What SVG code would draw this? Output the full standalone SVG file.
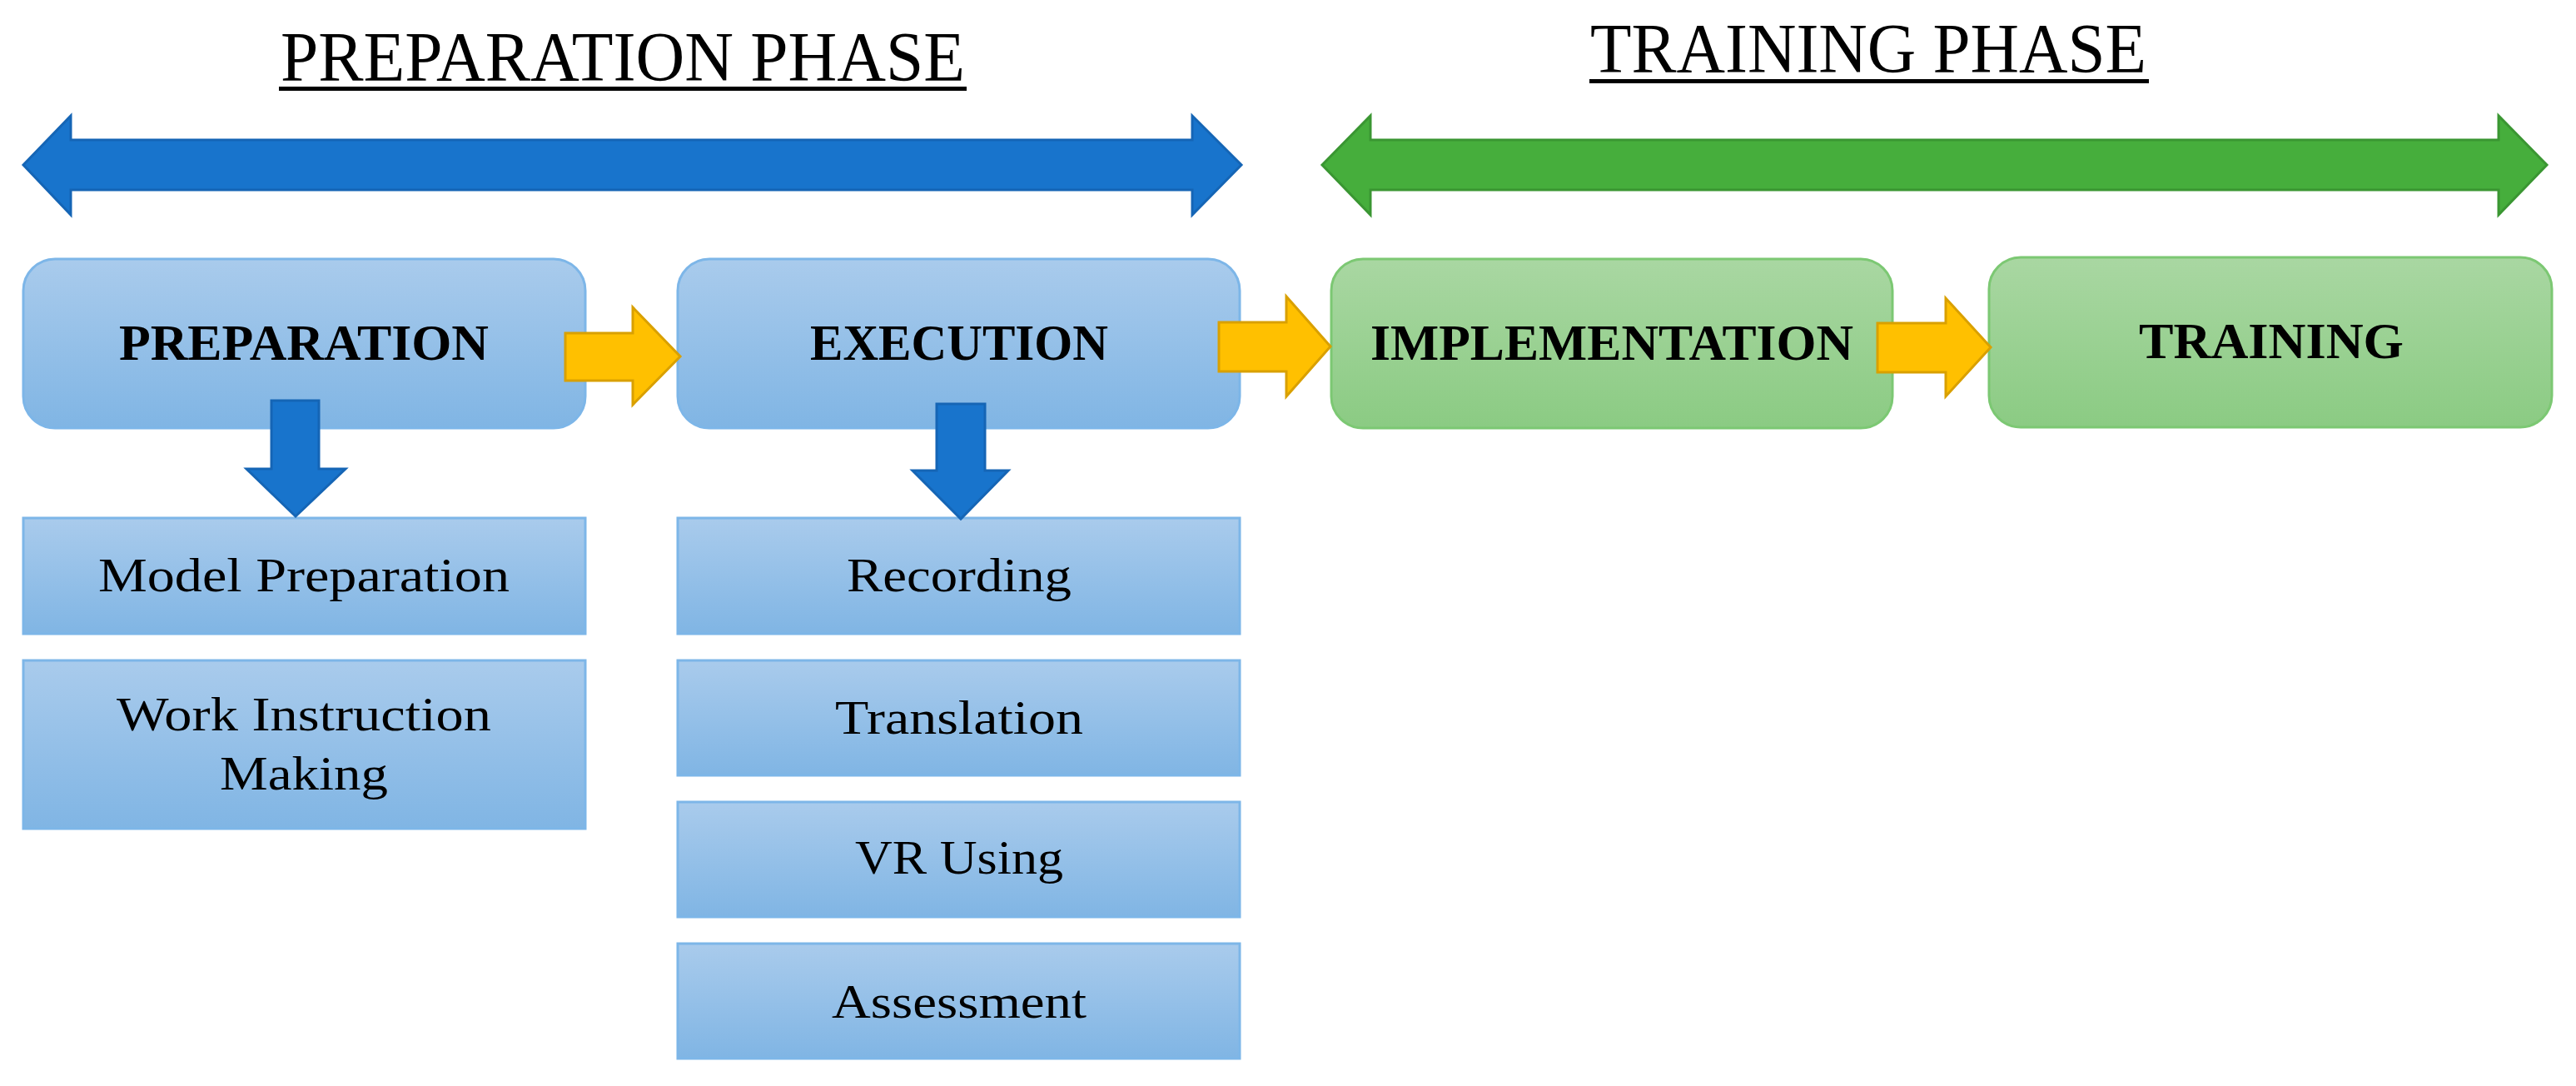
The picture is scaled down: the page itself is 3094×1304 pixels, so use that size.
<svg xmlns="http://www.w3.org/2000/svg" width="3094" height="1304" viewBox="0 0 3094 1304">
<defs>
<linearGradient id="gb" x1="0" y1="0" x2="0" y2="1"><stop offset="0" stop-color="#A9CBEC"/><stop offset="1" stop-color="#80B5E4"/></linearGradient>
<linearGradient id="gg" x1="0" y1="0" x2="0" y2="1"><stop offset="0" stop-color="#A9D7A2"/><stop offset="1" stop-color="#8BCB83"/></linearGradient>
<style>
.t{font-family:"Liberation Serif","Times New Roman",serif;fill:#000;text-anchor:middle}
.title{font-size:84px}
.lb{font-size:62px;font-weight:bold}
.ls{font-size:58px}
.bb{fill:url(#gb);stroke:#7DB6E8;stroke-width:3}
.gb{fill:url(#gg);stroke:#7CC873;stroke-width:3}
.ya{fill:#FFC000;stroke:#D9A000;stroke-width:3}
.da{fill:#1874CC;stroke:#1565B5;stroke-width:3}
</style>
</defs>
<rect width="3094" height="1304" fill="#fff"/>
<g id="titles">
<text class="t title" x="748" y="97" textLength="822" lengthAdjust="spacingAndGlyphs">PREPARATION PHASE</text>
<rect x="335" y="104" width="826" height="5" fill="#000"/>
<text class="t title" x="2244" y="87" textLength="668" lengthAdjust="spacingAndGlyphs">TRAINING PHASE</text>
<rect x="1909" y="95" width="672" height="5" fill="#000"/>
</g>
<g id="phase-arrows">
<polygon points="28,198 85,139 85,168 1432,168 1432,139 1491,198 1432,258 1432,228 85,228 85,258" fill="#1874CC" stroke="#1565B5" stroke-width="3"/>
<polygon points="1588,198 1646,139 1646,168 3001,168 3001,139 3059,198 3001,258 3001,228 1646,228 1646,258" fill="#46AE3C" stroke="#3A9632" stroke-width="3"/>
</g>
<g id="n-preparation"><rect class="bb" x="28" y="311" width="675" height="203" rx="38"/><text class="t lb" x="365" y="432" textLength="444" lengthAdjust="spacingAndGlyphs">PREPARATION</text></g>
<g id="n-execution"><rect class="bb" x="814" y="311" width="675" height="203" rx="38"/><text class="t lb" x="1152" y="432" textLength="358" lengthAdjust="spacingAndGlyphs">EXECUTION</text></g>
<g id="n-implementation"><rect class="gb" x="1599" y="311" width="674" height="203" rx="38"/><text class="t lb" x="1936" y="432" textLength="580" lengthAdjust="spacingAndGlyphs">IMPLEMENTATION</text></g>
<g id="n-training"><rect class="gb" x="2389" y="309" width="676" height="204" rx="38"/><text class="t lb" x="2728" y="430" textLength="318" lengthAdjust="spacingAndGlyphs">TRAINING</text></g>
<g id="n-model"><rect class="bb" x="28" y="622" width="675" height="139"/><text class="t ls" x="365" y="710" textLength="494" lengthAdjust="spacingAndGlyphs">Model Preparation</text></g>
<g id="n-work"><rect class="bb" x="28" y="793" width="675" height="202"/><text class="t ls" x="365" y="877" textLength="450" lengthAdjust="spacingAndGlyphs">Work Instruction</text><text class="t ls" x="365" y="948" textLength="202" lengthAdjust="spacingAndGlyphs">Making</text></g>
<g id="n-recording"><rect class="bb" x="814" y="622" width="675" height="139"/><text class="t ls" x="1152" y="710" textLength="270" lengthAdjust="spacingAndGlyphs">Recording</text></g>
<g id="n-translation"><rect class="bb" x="814" y="793" width="675" height="138"/><text class="t ls" x="1152" y="881" textLength="298" lengthAdjust="spacingAndGlyphs">Translation</text></g>
<g id="n-vr"><rect class="bb" x="814" y="963" width="675" height="138"/><text class="t ls" x="1152" y="1049" textLength="250" lengthAdjust="spacingAndGlyphs">VR Using</text></g>
<g id="n-assessment"><rect class="bb" x="814" y="1133" width="675" height="138"/><text class="t ls" x="1152" y="1222" textLength="306" lengthAdjust="spacingAndGlyphs">Assessment</text></g>
<g id="connectors">
<polygon class="ya" points="679,400 760,400 760,369 817,428 760,486 760,457 679,457"/>
<polygon class="ya" points="1464,387 1545,387 1545,356 1598,416 1545,476 1545,446 1464,446"/>
<polygon class="ya" points="2255,388 2337,388 2337,358 2391,417 2337,476 2337,447 2255,447"/>
<polygon class="da" points="326,481 383,481 383,563 415,563 355,620 296,563 326,563"/>
<polygon class="da" points="1125,485 1183,485 1183,565 1211,565 1154,623 1096,565 1125,565"/>
</g>
</svg>
